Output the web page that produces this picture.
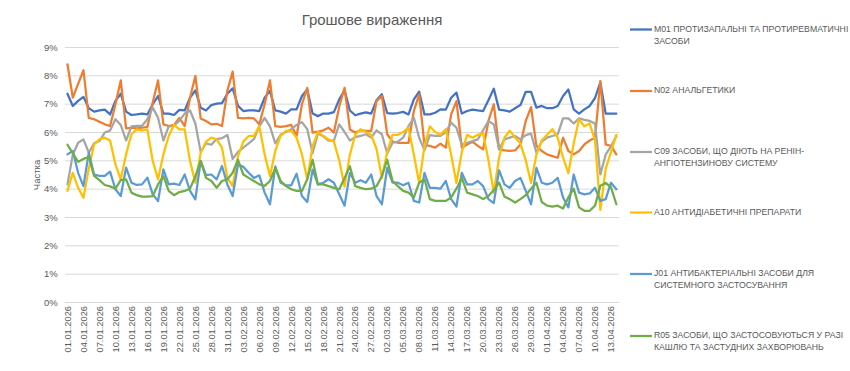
<!DOCTYPE html>
<html>
<head>
<meta charset="utf-8">
<script src="https://cdn.jsdelivr.net/npm/d3@7"></script>
<style>
  body { margin: 0; background: #fff; }
  text { font-family: "Liberation Sans", Arial, sans-serif; fill: #595959; }
</style>
</head>
<body>
<script>
const width = 850,
  height = 371;

const margin = { top: 47, right: 231, bottom: 69, left: 64.8 };

// categories: one point per day, 01.01.2026 .. 14.04.2026
const dates = d3.timeDay.range(new Date(2026, 0, 1), new Date(2026, 3, 15));
const labelEvery = 3;
const yTicks = [0, 0.01, 0.02, 0.03, 0.04, 0.05, 0.06, 0.07, 0.08, 0.09];

// series values, % share
const m01 = [7.35,6.92,7.1,7.24,6.84,6.72,6.76,6.79,6.62,7.1,7.35,6.72,6.6,6.62,6.65,6.62,6.98,7.27,6.65,6.65,6.6,6.78,6.76,7.21,7.47,6.86,6.76,6.95,7.0,7.02,7.35,7.54,6.92,6.74,6.76,6.76,6.74,7.21,7.45,6.76,6.72,6.65,6.8,6.8,7.27,7.5,6.65,6.56,6.65,6.65,6.7,7.15,
  7.47,6.76,6.59,6.65,6.69,6.65,7.12,7.33,6.67,6.65,6.67,6.71,6.62,7.15,7.42,6.62,6.62,6.68,6.8,6.79,7.21,7.39,6.65,6.74,6.79,6.76,6.74,7.12,7.53,6.79,6.76,6.72,6.84,6.95,7.42,7.42,6.86,6.92,6.84,6.84,6.92,7.27,7.5,6.8,6.65,6.8,6.92,7.2,7.75,6.65,6.65,6.65];
const n02 = [8.39,7.21,7.7,8.18,6.5,6.45,6.36,6.27,6.21,6.98,7.82,6.13,6.15,6.13,6.15,6.18,7.04,7.82,6.27,6.21,6.25,6.5,6.21,7.21,7.98,6.48,6.39,6.27,6.29,6.21,7.45,8.13,6.5,6.48,6.5,6.48,6.27,6.98,7.82,6.21,6.18,6.21,6.25,5.86,6.98,7.56,5.98,6.01,6.06,6.15,5.98,6.9,
  7.56,6.09,5.98,6.06,6.04,6.04,7.09,7.27,5.92,5.66,5.62,5.62,5.62,6.74,7.33,5.54,5.51,5.45,5.59,5.45,6.62,7.09,5.45,5.56,5.66,5.51,5.39,6.39,6.98,5.39,5.35,5.33,5.35,5.56,6.39,6.88,5.51,5.33,5.21,5.15,5.09,5.8,5.33,5.21,5.33,5.56,5.7,5.8,7.8,5.56,5.51,5.21];
const c09 = [4.15,5.2,5.62,5.74,5.27,5.6,5.68,5.98,6.05,6.45,6.25,5.7,6.2,6.22,6.22,6.45,6.86,6.5,5.7,6.2,6.22,6.4,6.65,6.76,6.3,5.3,5.6,5.55,5.75,5.78,5.9,5.05,5.3,5.45,5.6,5.75,6.2,6.5,6.2,5.6,5.9,6.0,6.1,6.25,6.35,6.1,5.25,5.95,5.85,5.7,5.7,6.27,
  6.0,5.7,5.82,5.86,5.92,5.8,6.06,5.92,5.24,5.62,5.66,5.8,6.21,6.5,5.8,5.35,5.89,5.86,5.86,6.0,6.33,6.15,5.54,5.62,5.68,5.74,6.06,6.39,6.27,5.39,5.74,5.8,5.86,5.74,5.89,5.94,5.27,5.66,5.8,5.86,5.92,6.48,6.48,6.3,6.48,6.43,6.39,6.3,4.5,5.2,5.5,5.85];
const a10 = [3.92,4.56,4.03,3.68,4.7,5.56,5.74,5.8,5.7,4.86,4.33,5.21,5.92,6.09,6.06,6.09,4.98,4.33,5.21,5.86,6.25,6.09,6.09,4.98,4.21,5.27,5.66,5.8,5.74,5.45,4.39,4.09,5.15,5.66,5.86,5.86,6.21,5.21,4.45,5.33,5.86,6.04,6.04,5.8,5.21,4.33,5.5,6.0,5.86,5.74,5.66,
  5.0,4.07,5.2,5.9,6.1,6.0,5.9,5.4,4.38,5.3,5.9,5.9,6.0,6.15,5.2,4.2,5.5,6.2,6.0,5.9,6.1,5.2,4.2,5.3,5.9,5.8,5.9,5.95,5.0,3.85,5.1,5.8,6.05,5.8,5.6,5.0,4.2,5.2,5.7,5.9,6.1,5.8,5.1,4.55,5.6,6.45,6.2,6.3,5.7,3.25,4.7,5.3,5.9];
const j01 = [5.21,5.33,4.56,4.09,5.27,4.5,4.45,4.45,4.6,3.98,3.74,4.74,4.21,4.13,4.15,4.39,3.8,3.56,4.68,4.15,4.18,4.13,4.5,3.92,3.62,4.98,4.48,4.5,4.33,4.8,4.15,
  3.74,4.85,4.77,4.56,4.38,4.47,3.86,3.45,4.79,4.21,4.12,4.12,4.53,3.74,3.53,4.67,4.15,4.21,4.33,4.21,3.8,3.4,4.56,4.21,4.3,4.21,4.5,3.74,3.45,4.73,4.21,4.21,4.12,4.21,3.57,3.51,
  4.56,4.03,4.03,4.0,4.27,3.63,3.37,4.56,4.15,4.15,4.27,4.09,3.63,3.49,4.65,4.15,4.03,4.27,4.38,3.92,3.45,4.73,4.21,4.15,4.21,4.38,3.69,3.34,4.5,3.86,3.8,3.83,4.03,3.57,3.63,4.21,3.98];
const r05 = [5.55,5.25,4.95,5.05,5.12,4.45,4.3,4.13,4.08,4.0,4.3,4.33,3.86,3.77,3.72,3.72,3.74,4.15,4.44,3.92,3.77,3.88,3.92,4.0,4.44,4.97,4.38,4.27,4.03,4.27,4.33,4.56,5.02,
  4.5,4.38,4.27,4.15,4.1,4.27,4.73,4.27,4.09,3.98,3.92,3.92,4.33,5.02,4.15,4.15,4.09,4.03,3.98,4.38,4.79,4.09,4.03,3.98,4.0,4.09,4.44,5.02,4.27,4.09,3.92,3.86,3.69,4.21,
  4.33,3.63,3.57,3.57,3.57,3.69,4.0,4.38,3.86,3.8,3.74,3.63,3.74,3.95,4.21,3.72,3.63,3.51,3.63,3.77,4.0,4.21,3.53,3.4,3.37,3.4,3.3,3.69,4.0,3.34,3.22,3.22,3.4,4.1,4.2,4.05,3.45];

const seriesNames = [
  ["M01 ПРОТИЗАПАЛЬНІ ТА ПРОТИРЕВМАТИЧНІ", "ЗАСОБИ"],
  ["N02 АНАЛЬГЕТИКИ"],
  ["C09 ЗАСОБИ, ЩО ДІЮТЬ НА РЕНІН-", "АНГІОТЕНЗИНОВУ СИСТЕМУ"],
  ["A10 АНТИДІАБЕТИЧНІ ПРЕПАРАТИ"],
  ["J01 АНТИБАКТЕРІАЛЬНІ ЗАСОБИ ДЛЯ", "СИСТЕМНОГО ЗАСТОСУВАННЯ"],
  ["R05 ЗАСОБИ, ЩО ЗАСТОСОВУЮТЬСЯ У РАЗІ", "КАШЛЮ ТА ЗАСТУДНИХ ЗАХВОРЮВАНЬ"]
];
const seriesValues = [m01, n02, c09, a10, j01, r05];
const colors = ["#4472C4", "#ED7D31", "#A5A5A5", "#FFC000", "#5B9BD5", "#70AD47"];

const formatDate = d3.timeFormat("%d.%m.%Y");
const categories = dates.map(formatDate);

const svg = d3
  .select("body")
  .append("svg")
  .attr("width", width)
  .attr("height", height);

const xScale = d3
  .scaleBand()
  .domain(categories)
  .range([margin.left, width - margin.right]);
const xMid = c => xScale(c) + xScale.bandwidth() / 2;

const yScale = d3
  .scaleLinear()
  .domain([0, 0.09])
  .range([height - margin.bottom, margin.top]);

// gridlines + y labels
const yAxis = d3
  .axisLeft(yScale)
  .tickValues(yTicks)
  .tickFormat(d3.format(".0%"))
  .tickSize(-(width - margin.right - margin.left))
  .tickPadding(7);

svg
  .append("g")
  .attr("transform", `translate(${margin.left},0)`)
  .call(yAxis)
  .call(g => g.select(".domain").remove())
  .call(g => g.selectAll(".tick line").attr("stroke", "#D9D9D9"))
  .call(g =>
    g
      .selectAll(".tick text")
      .attr("font-size", 9.5)
      .attr("fill", "#595959")
      .style("font-family", '"Liberation Sans", Arial, sans-serif')
  );

// x axis, rotated date labels
const xAxis = d3
  .axisBottom(xScale)
  .tickValues(categories.filter((d, i) => i % labelEvery === 0))
  .tickSize(0)
  .tickPadding(0);

svg
  .append("g")
  .attr("transform", `translate(0,${height - margin.bottom})`)
  .call(xAxis)
  .call(g => g.select(".domain").remove())
  .call(g =>
    g
      .selectAll(".tick text")
      .attr("transform", "rotate(-90)")
      .attr("x", -4)
      .attr("y", 0)
      .attr("dy", "0.35em")
      .attr("text-anchor", "end")
      .attr("font-size", 9.3)
      .attr("fill", "#595959")
      .style("font-family", '"Liberation Sans", Arial, sans-serif')
  );

// lines
const line = d3
  .line()
  .x((d, i) => xMid(categories[i]))
  .y(d => yScale(d / 100));

svg
  .append("g")
  .selectAll("path")
  .data(seriesValues)
  .enter()
  .append("path")
  .attr("d", line)
  .attr("fill", "none")
  .attr("stroke", (d, i) => colors[i])
  .attr("stroke-width", 2.25)
  .attr("stroke-linejoin", "round")
  .attr("stroke-linecap", "round");

// title
svg
  .append("text")
  .attr("x", 372)
  .attr("y", 25)
  .attr("text-anchor", "middle")
  .attr("font-size", 15)
  .text("Грошове вираження");

// y axis title
svg
  .append("text")
  .attr("transform", "translate(40,175) rotate(-90)")
  .attr("text-anchor", "middle")
  .attr("font-size", 9.5)
  .text("Частка");

// legend
const legendY = [28.5, 90, 151, 211.5, 273, 335];
const legend = svg
  .append("g")
  .selectAll("g")
  .data(seriesNames)
  .enter()
  .append("g")
  .attr("transform", (d, i) => `translate(630,${legendY[i]})`);

legend
  .append("line")
  .attr("x1", 0)
  .attr("x2", 22)
  .attr("y1", 1)
  .attr("y2", 1)
  .attr("stroke", (d, i) => colors[i])
  .attr("stroke-width", 2.25);

legend
  .selectAll("text")
  .data(d => d)
  .enter()
  .append("text")
  .attr("x", 24)
  .attr("y", (d, i) => i * 12.4)
  .attr("dy", "0.35em")
  .attr("font-size", 8.7)
  .text(d => d);
</script>
</body>
</html>
